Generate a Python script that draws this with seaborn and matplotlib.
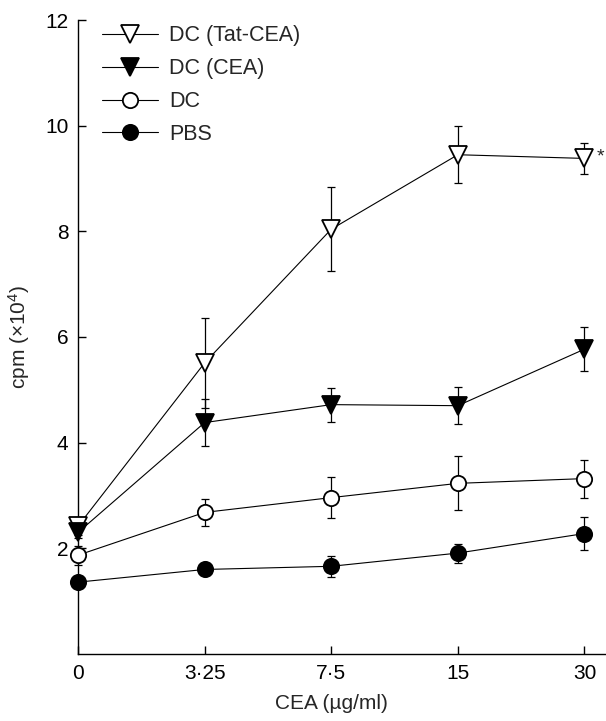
import seaborn as sns
import matplotlib
matplotlib.use('Agg')
import matplotlib.pyplot as plt
import numpy as np

# data (cpm x 10^4, mean +/- error)
conc_labels = ['0', '3\u00b725', '7\u00b75', '15', '30']

tat_cea = [2.42, 5.51, 8.04, 9.45, 9.38]
tat_cea_err = [0.17, 0.85, 0.80, 0.54, 0.29]

cea = [2.30, 4.38, 4.72, 4.70, 5.77]
cea_err = [0.10, 0.44, 0.32, 0.35, 0.41]

dc = [1.87, 2.68, 2.96, 3.23, 3.32]
dc_err = [0.18, 0.26, 0.39, 0.51, 0.36]

pbs = [1.36, 1.60, 1.66, 1.91, 2.28]
pbs_err = [0.05, 0.06, 0.20, 0.18, 0.31]

series_names = ['DC (Tat-CEA)', 'DC (CEA)', 'DC', 'PBS']

sns.set_style('ticks')
plt.rcParams['font.family'] = ['Liberation Sans', 'DejaVu Sans']
plt.rcParams['mathtext.fontset'] = 'custom'
plt.rcParams['mathtext.rm'] = 'Liberation Sans'
plt.rcParams['mathtext.it'] = 'Liberation Sans'

fig = plt.figure(figsize=(6.06, 7.21), dpi=100)
ax = fig.add_axes([78 / 606, 67 / 721, 528 / 606, 634 / 721])

pos = np.arange(len(conc_labels))

# (values, errors, marker, face colour, size)
styles = [
    (tat_cea, tat_cea_err, 'v', 'white', 13.5),
    (cea, cea_err, 'v', 'black', 13.5),
    (dc, dc_err, 'o', 'white', 11),
    (pbs, pbs_err, 'o', 'black', 11),
]

for name, (vals, errs, mk, face, ms) in zip(series_names, styles):
    ax.errorbar(pos, vals, yerr=errs, fmt='none', ecolor='black',
                elinewidth=0.9, capsize=2.8, capthick=0.9, zorder=2,
                clip_on=False)
    sns.lineplot(x=pos, y=vals, ax=ax, color='black', linewidth=0.8,
                 marker=mk, markersize=ms, markerfacecolor=face,
                 markeredgecolor='black', markeredgewidth=1.3,
                 label=name, zorder=3, clip_on=False)

# significance mark next to last Tat-CEA point
ax.text(pos[-1] + 0.13, tat_cea[-1] + 0.02, '*', fontsize=14,
        ha='center', va='center')

ax.set_xlim(0, 4.17)
ax.set_ylim(0, 12)
ax.set_xticks(pos)
ax.set_xticklabels(conc_labels)
ax.set_yticks([2, 4, 6, 8, 10, 12])

sns.despine(ax=ax)
for sp in ['left', 'bottom']:
    ax.spines[sp].set_linewidth(1.0)
    ax.spines[sp].set_color('black')

ax.tick_params(axis='both', direction='in', length=6, width=1.0,
               labelsize=15, colors='black')
ax.tick_params(axis='x', pad=7)
ax.tick_params(axis='y', pad=7)

ax.set_xlabel('CEA (\u00b5g/ml)', fontsize=15, x=0.48, labelpad=8)
ax.set_ylabel('cpm (\u00d710$^{4}$)', fontsize=15, labelpad=9)

leg = ax.legend(loc='upper left', bbox_to_anchor=(0.03, 1.005), frameon=False,
                fontsize=15.5, handlelength=2.6, handletextpad=0.5,
                labelspacing=0.55, borderaxespad=0)

fig.savefig('out.png', dpi=100)
